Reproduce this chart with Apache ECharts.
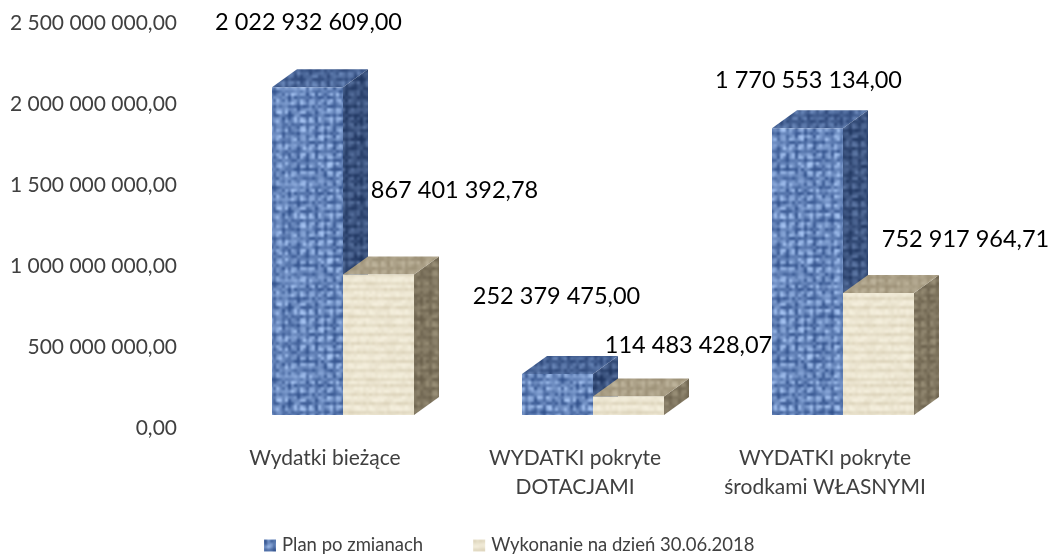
<!DOCTYPE html>
<html>
<head>
<meta charset="utf-8">
<style>html,body{margin:0;padding:0;background:#fff}#c{width:1054px;height:560px}</style>
<script src="https://cdn.jsdelivr.net/npm/echarts@6/dist/echarts.min.js"></script>
</head>
<body>
<div id="c"></div>
<script>
var categories = ['Wydatki bieżące', 'WYDATKI pokryte\nDOTACJAMI', 'WYDATKI pokryte\nśrodkami WŁASNYMI'];
var seriesNames = ['Plan po zmianach', 'Wykonanie na dzień 30.06.2018'];
var planValues = [2022932609.00, 252379475.00, 1770553134.00];
var actualValues = [867401392.78, 114483428.07, 752917964.71];
var yTicks = [0, 500000000, 1000000000, 1500000000, 2000000000, 2500000000];

// Hand-placed label offsets relative to each bar's front-top centre, as in the reference
var planLabelOffsets = [[1, -65], [-1, -78], [1, -48]];
var actualLabelOffsets = [[76, -84], [60, -51], [87, -54]];

function fmt(v) {
  var p = v.toFixed(2).split('.');
  return p[0].replace(/\B(?=(\d{3})+(?!\d))/g, ' ') + ',' + p[1];
}

// deterministic woven texture
function weave(size, cell, dark, light, stripes) {
  var base = document.createElement('canvas');
  base.width = base.height = size;
  var b = base.getContext('2d');
  var n = Math.round(size / cell);
  for (var i = 0; i < n; i++) {
    for (var j = 0; j < n; j++) {
      var h = Math.abs(Math.sin(i * 12.9898 + j * 78.233) * 43758.5453);
      h = h - Math.floor(h);
      var t = stripes ? h * 0.3 + (j % 3 === 0 ? 0.3 : 0.65) : h * 0.55 + (i % 3 === 0 || j % 3 === 0 ? 0.08 : 0.45);
      t = Math.min(1, t);
      var c = dark.map(function (d, k) { return Math.round(d + (light[k] - d) * t); });
      b.fillStyle = 'rgb(' + c.join(',') + ')';
      b.fillRect(i * cell, j * cell, cell + 1, cell + 1);
    }
  }
  var wide = document.createElement('canvas');
  wide.width = wide.height = size * 3;
  var w = wide.getContext('2d');
  for (var x = 0; x < 3; x++) for (var y = 0; y < 3; y++) w.drawImage(base, x * size, y * size);
  var out = document.createElement('canvas');
  out.width = out.height = size;
  var o = out.getContext('2d');
  o.filter = 'blur(0.9px)';
  o.drawImage(wide, -size, -size);
  return { image: out, repeat: 'repeat' };
}

var textures = [
  {
    front: weave(96, 3, [34, 66, 126], [172, 202, 248]),
    top: weave(60, 3, [36, 62, 112], [112, 142, 192]),
    side: weave(60, 3, [22, 44, 86], [96, 122, 168])
  },
  {
    front: weave(96, 3, [205, 194, 165], [248, 243, 226], true),
    top: weave(60, 3, [150, 138, 112], [192, 182, 158]),
    side: weave(60, 3, [100, 90, 70], [156, 146, 122])
  }
];

var BAR_W = 71, DX = 25, DY = 18;

function bar3d(seriesIdx, offsets) {
  return function (params, api) {
    var i = api.value(0), v = api.value(1);
    var top = api.coord([i, v]);
    var base = api.coord([i, 0]);
    var xl = top[0] + (seriesIdx === 0 ? -BAR_W : 0);
    var xr = xl + BAR_W;
    var yt = top[1], yb = base[1];
    var tex = textures[seriesIdx];
    var off = offsets[params.dataIndex];
    return {
      type: 'group',
      children: [
        { type: 'polygon', shape: { points: [[xr, yb], [xr + DX, yb - DY], [xr + DX, yt - DY], [xr, yt]] }, style: { fill: tex.side } },
        { type: 'polygon', shape: { points: [[xl, yt], [xl + DX, yt - DY], [xr + DX, yt - DY], [xr, yt]] }, style: { fill: tex.top } },
        { type: 'rect', shape: { x: xl, y: yt, width: BAR_W, height: yb - yt }, style: { fill: tex.front } },
        { type: 'text', z2: 100, style: {
            x: xl + BAR_W / 2 + off[0], y: yt + off[1], text: fmt(v),
            fill: '#000', align: 'center', verticalAlign: 'middle',
            font: '23.5px Lato, Carlito, sans-serif' } }
      ]
    };
  };
}

function toData(vals) { return vals.map(function (v, i) { return [i, v]; }); }

var chart = echarts.init(document.getElementById('c'), null, { renderer: 'canvas' });
chart.setOption({
  animation: false,
  backgroundColor: '#fff',
  grid: { left: 218, right: 86, top: 10, bottom: 145, containLabel: false },
  legend: {
    left: 264, top: 536, padding: 0, itemWidth: 12, itemHeight: 12, itemGap: 50,
    icon: 'rect',
    textStyle: { color: '#404040', fontSize: 18.5, fontFamily: 'Lato, Carlito, sans-serif', padding: [0, 0, 0, 1] },
    data: [
      { name: seriesNames[0], itemStyle: { color: textures[0].front } },
      { name: seriesNames[1], itemStyle: { color: textures[1].front } }
    ]
  },
  xAxis: {
    type: 'category', data: categories,
    axisLine: { show: false }, axisTick: { show: false },
    axisLabel: {
      color: '#404040', fontSize: 21, lineHeight: 29, margin: 29, interval: 0,
      fontFamily: 'Lato, Carlito, sans-serif', padding: [0, 36, 0, 0]
    }
  },
  yAxis: {
    type: 'value', min: yTicks[0], max: yTicks[yTicks.length - 1], interval: yTicks[1],
    axisLine: { show: false }, axisTick: { show: false }, splitLine: { show: false },
    axisLabel: {
      color: '#404040', fontSize: 21, margin: 41, verticalAlign: 'top', lineHeight: 27,
      fontFamily: 'Lato, Carlito, sans-serif',
      formatter: function (v) { return fmt(v); }
    }
  },
  series: [
    { name: seriesNames[0], type: 'custom', clip: false, data: toData(planValues), encode: { x: 0, y: 1 },
      itemStyle: { color: '#5b7fb8' }, renderItem: bar3d(0, planLabelOffsets), z: 2 },
    { name: seriesNames[1], type: 'custom', clip: false, data: toData(actualValues), encode: { x: 0, y: 1 },
      itemStyle: { color: '#e8dfc6' }, renderItem: bar3d(1, actualLabelOffsets), z: 3 }
  ]
});
</script>
</body>
</html>
